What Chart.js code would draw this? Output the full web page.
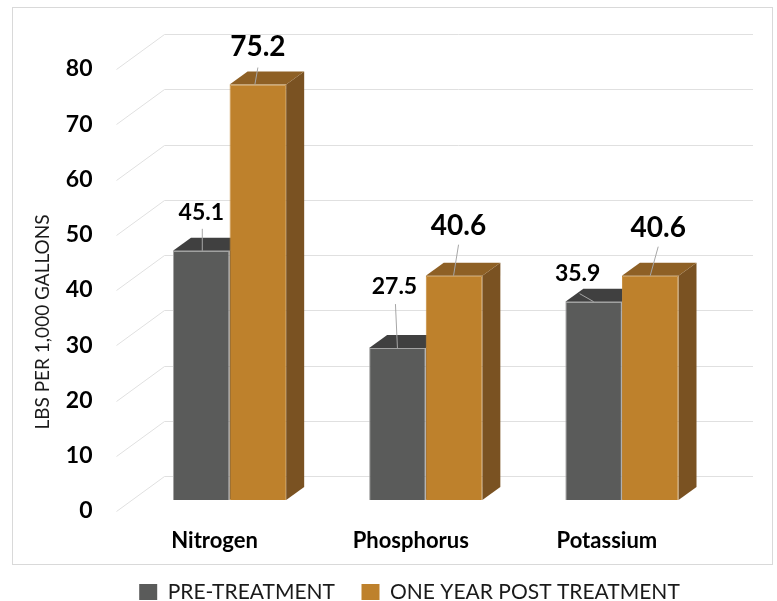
<!DOCTYPE html>
<html>
<head>
<meta charset="utf-8">
<script src="https://cdn.jsdelivr.net/npm/chart.js@4/dist/chart.umd.min.js"></script>
<style>
  html, body { margin: 0; padding: 0; background: #fff; }
</style>
</head>
<body>
<canvas id="nutrientesChart" width="777" height="601"></canvas>
<script>
// Datos del grafico
const categorias = ['Nitrogen', 'Phosphorus', 'Potassium'];
const preTratamiento = [45.1, 27.5, 35.9];
const postTratamiento = [75.2, 40.6, 40.6];
const nombresSeries = ['PRE-TREATMENT', 'ONE YEAR POST TREATMENT'];
const yMin = 0;
const yMax = 80;
const yPaso = 10;
const tituloEjeY = 'LBS PER 1,000 GALLONS';

// Estilo 3D (desplazamientos en pixeles)
const PROF = { dx: 18, dy: -13 };     // profundidad de la barra
const FRENTE = { dx: -15, dy: 11 };   // plano frontal de la rejilla
const FONDO = { dx: 33, dy: -24 };    // pared del fondo

const colores = [
  { front: '#5a5b5a', top: '#404040', side: '#383838', edge: '#a3a3a3' },
  { front: '#be812c', top: '#8e6025', side: '#7a5222', edge: '#c48a38' }
];

// posicion de etiquetas y lineas guia, relativa al centro/alto de cada barra
const guias = [
  [ { lx: 0, ly: -38, a: [1, 0], b: [1, -22] },
    { lx: -3, ly: -61, a: [0, 0], b: [-2, -44] },
    { lx: -16, ly: -28, a: [0, 0], b: [-14, -8] } ],
  [ { lx: 0, ly: -38, a: [-3, 0], b: [0, -17] },
    { lx: 4.5, ly: -50, a: [-0.5, 0], b: [4.5, -31] },
    { lx: 8, ly: -48, a: [0, 0], b: [8, -29] } ]
];
const tamEtiqueta = [23, 28];

function poligono(ctx, pts, color) {
  ctx.fillStyle = color;
  ctx.beginPath();
  ctx.moveTo(pts[0][0], pts[0][1]);
  for (let i = 1; i < pts.length; i++) ctx.lineTo(pts[i][0], pts[i][1]);
  ctx.closePath();
  ctx.fill();
}

const barras3d = {
  id: 'barras3d',
  beforeDraw(chart) {
    const ctx = chart.ctx;
    ctx.save();
    ctx.strokeStyle = '#d9d9d9';
    ctx.lineWidth = 1;
    ctx.strokeRect(12.5, 7.5, 760, 557);
    // titulo del eje Y
    ctx.translate(43, 322);
    ctx.rotate(-Math.PI / 2);
    ctx.font = '19px Lato';
    ctx.fillStyle = '#1a1a1a';
    ctx.textAlign = 'center';
    ctx.textBaseline = 'middle';
    ctx.fillText(tituloEjeY, 0, 0);
    ctx.restore();
  },
  beforeDatasetsDraw(chart) {
    const { ctx, chartArea: a, scales: { y } } = chart;
    ctx.save();
    // rejilla: diagonal izquierda + pared del fondo
    ctx.strokeStyle = '#e0e0e0';
    ctx.lineWidth = 1;
    y.ticks.forEach(t => {
      const py = Math.round(y.getPixelForValue(t.value)) + 0.5;
      ctx.beginPath();
      ctx.moveTo(a.left + FRENTE.dx, py + FRENTE.dy);
      ctx.lineTo(a.left + FONDO.dx, py + FONDO.dy);
      ctx.lineTo(a.right + FONDO.dx, py + FONDO.dy);
      ctx.stroke();
    });
    // caras superior y lateral
    chart.data.datasets.forEach((ds, i) => {
      const c = colores[i];
      chart.getDatasetMeta(i).data.forEach(bar => {
        const l = bar.x - bar.width / 2, r = bar.x + bar.width / 2;
        const t = bar.y, b = bar.base;
        poligono(ctx, [[r, t], [r + PROF.dx, t + PROF.dy], [r + PROF.dx, b + PROF.dy], [r, b]], c.side);
        poligono(ctx, [[l, t], [l + PROF.dx, t + PROF.dy], [r + PROF.dx, t + PROF.dy], [r, t]], c.top);
      });
    });
    ctx.restore();
  },
  afterDatasetsDraw(chart) {
    const ctx = chart.ctx;
    ctx.save();
    chart.data.datasets.forEach((ds, i) => {
      chart.getDatasetMeta(i).data.forEach((bar, j) => {
        const g = guias[i][j];
        ctx.strokeStyle = '#a6a6a6';
        ctx.lineWidth = 1;
        ctx.beginPath();
        ctx.moveTo(bar.x + g.a[0], bar.y + g.a[1]);
        ctx.lineTo(bar.x + g.b[0], bar.y + g.b[1]);
        ctx.stroke();
        ctx.font = 'bold ' + tamEtiqueta[i] + 'px Lato';
        ctx.fillStyle = '#000';
        ctx.textAlign = 'center';
        ctx.textBaseline = 'middle';
        ctx.fillText(ds.data[j].toFixed(1), bar.x + g.lx, bar.y + g.ly);
      });
    });
    ctx.restore();
  }
};

const ctx = document.getElementById('nutrientesChart').getContext('2d');
new Chart(ctx, {
  type: 'bar',
  data: {
    labels: categorias,
    datasets: [
      {
        label: nombresSeries[0],
        data: preTratamiento,
        backgroundColor: colores[0].front,
        borderColor: colores[0].edge,
        borderWidth: 1
      },
      {
        label: nombresSeries[1],
        data: postTratamiento,
        backgroundColor: colores[1].front,
        borderColor: colores[1].edge,
        borderWidth: 1
      }
    ]
  },
  options: {
    responsive: false,
    animation: false,
    categoryPercentage: 0.577,
    barPercentage: 1,
    layout: { padding: { left: 59, right: 17, top: 58, bottom: -11.5 } },
    scales: {
      x: {
        grid: { display: false, drawTicks: false },
        border: { display: false },
        ticks: {
          font: { family: 'Lato', size: 22, weight: 'bold' },
          color: '#000',
          padding: 28,
          labelOffset: -15
        },
        afterFit: s => { s.height = 55; }
      },
      y: {
        min: yMin,
        max: yMax,
        grid: { display: false, drawTicks: false },
        border: { display: false },
        ticks: {
          stepSize: yPaso,
          font: { family: 'Lato', size: 23, weight: 'bold' },
          color: '#000',
          padding: 39,
          labelOffset: 11
        },
        afterFit: s => { s.width = 72.5; }
      },
      // eje vacio a la derecha: deja sitio para la profundidad 3D
      derecha: {
        type: 'linear',
        position: 'right',
        grid: { display: false, drawTicks: false },
        border: { display: false },
        ticks: { display: false },
        afterFit: s => { s.width = 40; }
      }
    },
    plugins: {
      tooltip: { enabled: false },
      legend: {
        position: 'bottom',
        labels: {
          boxWidth: 18,
          boxHeight: 16,
          padding: 26.5,
          color: '#1a1a1a',
          font: { family: 'Lato', size: 21 },
          generateLabels: chart => Chart.defaults.plugins.legend.labels.generateLabels(chart)
            .map(it => Object.assign(it, { lineWidth: 0 }))
        }
      }
    }
  },
  plugins: [barras3d]
});
</script>
</body>
</html>
